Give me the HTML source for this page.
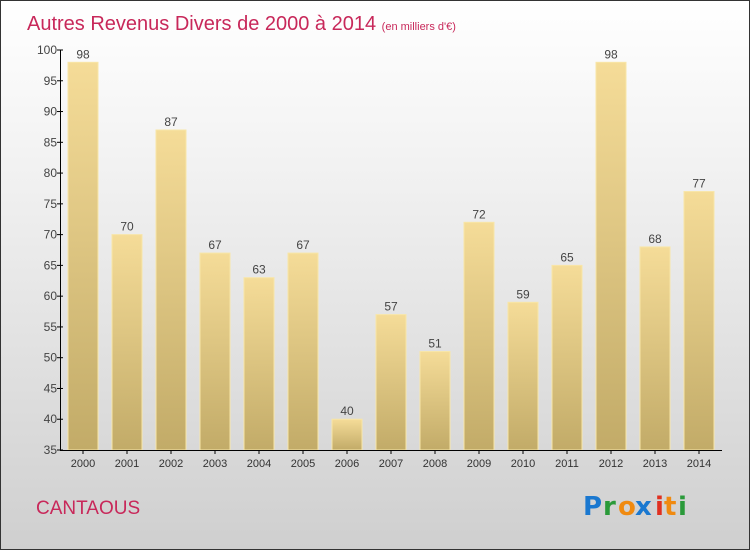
<!DOCTYPE html>
<html><head><meta charset="utf-8"><style>
body{margin:0}
#c{position:relative;width:748px;height:548px;border:1px solid #333;background:linear-gradient(#ffffff,#f2f2f2 30%,#cfcfcf);overflow:hidden;font-family:"Liberation Sans",sans-serif}
</style></head><body>
<div id="c">
<svg id="s" width="748" height="548" xmlns="http://www.w3.org/2000/svg">
<defs><linearGradient id="bg" x1="0" y1="0" x2="0" y2="1"><stop offset="0" stop-color="#f5dc98"/><stop offset="1" stop-color="#c2ab68"/></linearGradient></defs>
<text x="26" y="29" font-size="20" fill="#c8285a">Autres Revenus Divers de 2000 à 2014 <tspan font-size="11">(en milliers d'€)</tspan></text>
<text x="35" y="513" font-size="19" fill="#c8285a">CANTAOUS</text>
<g font-size="26" font-weight="bold" font-family="'DejaVu Sans',sans-serif">
<text x="582" y="514" fill="#1a78d0">P</text><text x="602" y="514" fill="#2a9a3a">r</text><text x="617" y="514" fill="#f08a10">o</text><text x="634" y="514" fill="#1a78d0">x</text><text x="654" y="514" fill="#e03020">i</text><text x="663" y="514" fill="#f08a10">t</text><text x="677" y="514" fill="#2a9a3a">i</text></g>
<g id="plot"></g>
</svg></div>
<script>
const categories=["2000","2001","2002","2003","2004","2005","2006","2007","2008","2009","2010","2011","2012","2013","2014"];
const values=[98,70,87,67,63,67,40,57,51,72,59,65,98,68,77];
const yTicks=[35,40,45,50,55,60,65,70,75,80,85,90,95,100];
const ns="http://www.w3.org/2000/svg";
const g=document.getElementById('plot');
const y=v=>449-(v-35)*(400/65);
const x=i=>67+i*44;
function mk(t,a,p){const e=document.createElementNS(ns,t);for(const k in a)e.setAttribute(k,a[k]);(p||g).appendChild(e);return e;}
values.forEach((v,i)=>{
 const r=mk('rect',{x:x(i),y:y(v),width:30,height:449-y(v),fill:'url(#bg)',stroke:'#f8e6a8','stroke-width':1});
 
 
 const t=mk('text',{x:x(i)+15,y:y(v)-4,'text-anchor':'middle','font-size':12,fill:'#444'});t.textContent=v;
 
 
 const c=mk('text',{x:x(i)+15,y:466,'text-anchor':'middle','font-size':11,fill:'#333'});c.textContent=categories[i];
 
 
 mk('line',{x1:x(i)+15,x2:x(i)+15,y1:449,y2:453,stroke:'#000'});
});
yTicks.forEach(v=>{
 mk('line',{x1:56,x2:62,y1:y(v),y2:y(v),stroke:'#000'});
 const t=mk('text',{x:56,y:y(v)+4,'text-anchor':'end','font-size':12,fill:'#444'});t.textContent=v;
 
 
});
const ya=mk('line',{x1:59.5,x2:59.5,y1:49,y2:449,stroke:'#000'});


const xa=mk('line',{x1:59,x2:721,y1:449.5,y2:449.5,stroke:'#000'});


</script>
</body></html>
